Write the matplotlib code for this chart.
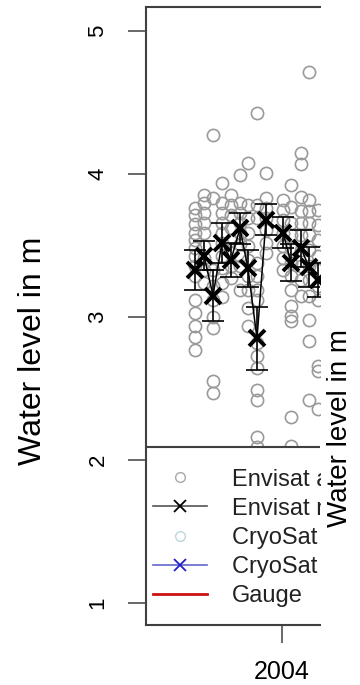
import matplotlib
matplotlib.use("agg")
import matplotlib.pyplot as plt
from matplotlib.lines import Line2D
from matplotlib.patches import Rectangle

plt.rcParams['font.family'] = ['Liberation Sans', 'DejaVu Sans']

# Envisat single measurements, one list per cycle (decimal year, water level in m)
cycle_years = [2003.13, 2003.22, 2003.31, 2003.40, 2003.49, 2003.58, 2003.66,
               2003.75, 2003.84, 2004.01, 2004.09, 2004.19, 2004.27, 2004.36]
cycle_levels = [
    [3.76, 3.71, 3.65, 3.59, 3.54, 3.48, 3.43, 3.36, 3.29, 3.12, 3.03, 2.94, 2.86, 2.77],
    [3.85, 3.80, 3.73, 3.66, 3.59, 3.50, 3.41, 3.33, 3.24],
    [4.27, 3.83, 3.33, 3.22, 3.12, 3.00, 2.92, 2.55, 2.47],
    [3.94, 3.80, 3.73, 3.66, 3.59, 3.52, 3.43, 3.34, 3.24, 3.14],
    [3.85, 3.78, 3.71, 3.62, 3.54, 3.45, 3.36, 3.27],
    [3.99, 3.80, 3.73, 3.66, 3.59, 3.51, 3.43, 3.36, 3.19],
    [4.08, 3.78, 3.69, 3.59, 3.50, 3.40, 3.29, 3.19, 3.06, 2.94],
    [4.43, 3.78, 3.69, 3.38, 3.29, 3.19, 3.12, 2.82, 2.73, 2.64, 2.49, 2.42, 2.16, 2.09],
    [4.01, 3.83, 3.76, 3.69, 3.61, 3.52, 3.45],
    [3.82, 3.75, 3.68, 3.59, 3.50, 3.41, 3.33],
    [3.92, 3.77, 3.66, 3.57, 3.48, 3.38, 3.29, 3.19, 3.08, 3.01, 2.97, 2.30, 2.10],
    [4.15, 4.07, 3.84, 3.74, 3.66, 3.57, 3.47, 3.36, 3.26, 3.15],
    [4.71, 3.82, 3.74, 3.66, 3.57, 3.47, 3.36, 3.26, 3.15, 2.98, 2.83, 2.42],
    [3.75, 3.64, 3.54, 3.43, 3.33, 3.22, 3.12, 2.66, 2.62, 2.36],
]
# cycle means and their error
cycle_mean = [3.33, 3.43, 3.15, 3.52, 3.40, 3.62, 3.34, 2.85, 3.68, 3.59, 3.38, 3.48, 3.35, 3.26]
cycle_err = [0.14, 0.10, 0.18, 0.14, 0.12, 0.11, 0.13, 0.22, 0.11, 0.11, 0.13, 0.13, 0.14, 0.12]

y_ticks = [1, 2, 3, 4, 5]
x_ticks = [2004]
legend_labels = ["Envisat all data", "Envisat mean", "CryoSat all data", "CryoSat mean", "Gauge"]

W, H = 360, 685
fig = plt.figure(figsize=(W / 100, H / 100), dpi=100)
ax = fig.add_axes([146 / W, 1 - 625 / H, 174 / W, 618 / H])

raw_x = []
raw_y = []
for yr, lev in zip(cycle_years, cycle_levels):
    raw_x += [yr] * len(lev)
    raw_y += lev
ax.plot(raw_x, raw_y, linestyle='none', marker='o', markersize=8.8,
        markerfacecolor='none', markeredgecolor='#9a9a9a', markeredgewidth=1.2)

ax.plot(cycle_years, cycle_mean, color='black', linewidth=1.1)
ax.errorbar(cycle_years, cycle_mean, yerr=cycle_err, fmt='none', ecolor='black',
            elinewidth=1.2, capsize=8, capthick=1.2)
ax.plot(cycle_years, cycle_mean, linestyle='none', marker='x', markersize=12,
        markeredgewidth=2.8, color='black')

ax.set_xlim(2002.64, 2004.38)
ax.set_ylim(0.846, 5.168)
ax.set_yticks(y_ticks)
ax.set_xticks(x_ticks)
ax.set_xticklabels([str(t) for t in x_ticks])
ax.tick_params(axis='both', length=13, width=1.1, color='#404040', labelsize=16, pad=14)
ax.tick_params(axis='x', labelsize=18, pad=12)
for lab in ax.get_yticklabels():
    lab.set_rotation(90)
    lab.set_va('center')
for side in ['left', 'bottom', 'top']:
    ax.spines[side].set_color('#404040')
    ax.spines[side].set_linewidth(1.5)
ax.spines['right'].set_visible(False)

# legend box (white, drawn over the points, clipped to the plot region)
ax.add_patch(Rectangle((0, 0), 1.5, (625 - 447) / 618, transform=ax.transAxes,
                       facecolor='white', edgecolor='#404040', linewidth=1.5, zorder=4))

handles = [
    Line2D([], [], linestyle='none', marker='o', markersize=7, markerfacecolor='none',
           markeredgecolor='#a8a8a8', markeredgewidth=1.0),
    Line2D([], [], color='#555555', linewidth=1.2, marker='x', markersize=8,
           markeredgecolor='black', markeredgewidth=1.3),
    Line2D([], [], linestyle='none', marker='o', markersize=7, markerfacecolor='none',
           markeredgecolor='#bcd6dc', markeredgewidth=1.0),
    Line2D([], [], color='#6666cc', linewidth=1.2, marker='x', markersize=8,
           markeredgecolor='#2222cc', markeredgewidth=1.3),
    Line2D([], [], color='#cc1111', linewidth=2.0),
]
leg = ax.legend(handles, legend_labels, loc='upper left',
                bbox_to_anchor=(0, (625 - 462) / 618), borderaxespad=0,
                fontsize=17, frameon=False, handlelength=2.3,
                handletextpad=1.05, labelspacing=0.3, borderpad=0.28)
leg.set_zorder(5)
for t in leg.get_texts():
    t.set_color('#222222')

# area right of the plot region belongs to the neighbouring panel
fig.add_artist(Rectangle((321 / W, 0), 1, 1, transform=fig.transFigure,
                         facecolor='white', edgecolor='none', zorder=3))
fig.text(33 / W, 1 - 351 / H, "Water level in m", rotation=90, ha='center',
         va='center', fontsize=23, zorder=4)
fig.text(340 / W, 1 - 428 / H, "Water level in m", rotation=90, ha='center',
         va='center', fontsize=20, zorder=4)

fig.savefig("out.png", dpi=100)
